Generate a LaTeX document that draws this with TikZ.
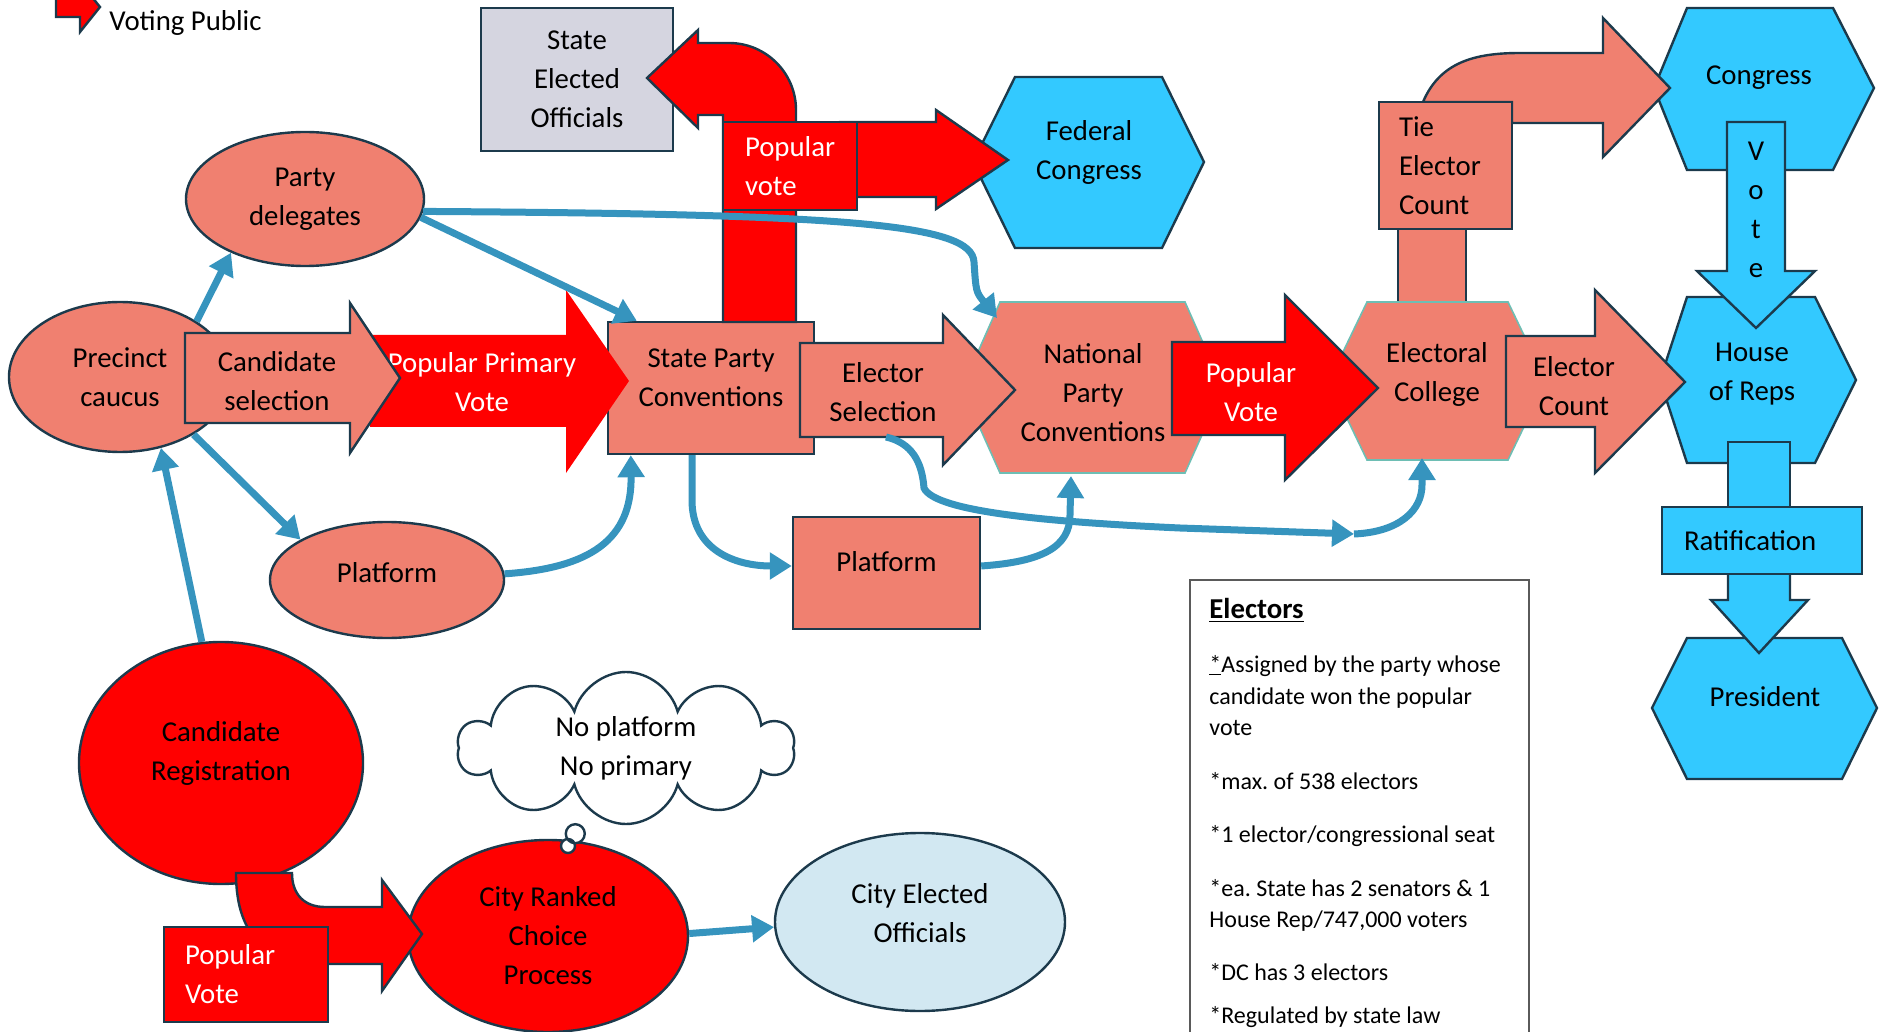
\documentclass[tikz,border=0pt]{standalone}
\usepackage{fontspec}
\setmainfont{Carlito}
\usetikzlibrary{arrows.meta,shapes.geometric,shapes.callouts}

\definecolor{salmonfill}{RGB}{240,128,112}
\definecolor{votered}{RGB}{255,0,0}
\definecolor{govcyan}{RGB}{51,201,255}
\definecolor{edgedark}{RGB}{28,58,76}
\definecolor{linkblue}{RGB}{54,148,190}
\definecolor{stategray}{RGB}{213,213,224}
\definecolor{citylight}{RGB}{210,232,242}
\definecolor{hexedge}{RGB}{110,190,180}
\definecolor{notegray}{RGB}{90,90,90}

\begin{document}
\begin{tikzpicture}[x=0.5pt, y=-0.5pt, >={Triangle[length=11pt,width=13pt]},
    lbl/.style={font=\fontsize{14.4}{19.5}\selectfont, align=center, inner sep=0pt},
    lblwhite/.style={lbl, text=white},
    notetext/.style={font=\fontsize{12}{16}\selectfont, inner sep=0pt, anchor=base west},
    outline/.style={draw=edgedark, line width=1.2pt},
    salmonpart/.style={outline, fill=salmonfill},
    redpart/.style={outline, fill=votered},
    cyanpart/.style={outline, fill=govcyan},
    hexpart/.style={draw=hexedge, line width=0.8pt, fill=salmonfill},
    oval/.style={ellipse, outline, lbl},
    link/.style={->, draw=linkblue, line width=3.5pt}]

    \useasboundingbox (0,0) rectangle (1881,1032);

    % Legend
    \draw [redpart] (56,-3) -- (80,-3) -- (80,-18) -- (100,7) -- (80,32) -- (80,17) -- (56,17) -- cycle;
    \node [lbl, anchor=west] (legend) at (109,23) {Voting Public};

    % State and federal offices
    \node [rectangle, outline, fill=stategray, minimum width=96pt, minimum height=71.5pt, lbl] (stateoff) at (577,79.5) {State\\Elected\\Officials};
    \draw [cyanpart] (973,162) -- (1015,77) -- (1162,77) -- (1204,162) -- (1162,248) -- (1015,248) -- cycle;
    \node [lbl] (fedcong) at (1089,152) {Federal\\Congress};
    \node [rectangle, salmonpart, minimum width=103pt, minimum height=66pt, lbl, text depth=10pt] (statepc) at (711,388) {State Party\\Conventions};
    \draw [redpart] (723,322) -- (723,115) -- (698,115) -- (698,128) -- (647,78) -- (698,30) -- (698,43) -- (729,43) .. controls (766,43) and (796,73) .. (796,110) -- (796,322) -- cycle;
    \draw [redpart] (840,122) -- (936,122) -- (936,110) -- (1008,160) -- (936,209) -- (936,197) -- (840,197) -- cycle;
    \node [rectangle, redpart, minimum width=67pt, minimum height=44pt, lbl, text=white, align=left, text width=45pt] (popvotetop) at (790,166) {Popular\\vote};

    % Hexagons
    \draw [hexpart] (962,388) -- (1000,302) -- (1185,302) -- (1223,388) -- (1185,473) -- (1000,473) -- cycle;
    \node [lbl] (natconv) at (1093,393) {National\\Party\\Conventions};
    \draw [salmonpart] (1398,222) rectangle (1466,306);
    \draw [hexpart] (1329,381) -- (1367,302) -- (1508,302) -- (1546,381) -- (1508,460) -- (1367,460) -- cycle;
    \node [lbl] (electcol) at (1437,374) {Electoral\\College};
    \draw [cyanpart] (1654,88) -- (1687,8) -- (1833,8) -- (1874,88) -- (1833,170) -- (1687,170) -- cycle;
    \node [lbl] (congress) at (1759,78) {Congress};
    \draw [cyanpart] (1660,380) -- (1687,297) -- (1815,297) -- (1856,380) -- (1815,463) -- (1687,463) -- cycle;
    \node [lbl] (house) at (1752,374) {House\\of Reps};
    \draw [cyanpart] (1652,708) -- (1687,638) -- (1842,638) -- (1877,708) -- (1842,779) -- (1687,779) -- cycle;
    \node [lbl] (president) at (1765,697) {President};

    % Main row of block arrows
    \fill [votered] (370,335) -- (566,335) -- (566,290) -- (629,381) -- (566,473) -- (566,427) -- (370,427) -- cycle;
    \node [lblwhite] (primary) at (482,382) {Popular Primary\\Vote};
    \node [oval, fill=salmonfill, minimum width=111pt, minimum height=75pt] (precinct) at (120,377) {Precinct\\caucus};
    \draw [salmonpart] (185,333) -- (350,333) -- (350,303) -- (400,378) -- (350,453) -- (350,423) -- (185,423) -- cycle;
    \node [lbl] (candsel) at (277,381) {Candidate\\selection};
    \draw [salmonpart] (800,343) -- (943,343) -- (943,315) -- (1015,390) -- (943,465) -- (943,437) -- (800,437) -- cycle;
    \node [lbl] (electsel) at (883,392) {Elector\\Selection};
    \draw [redpart] (1172,342) -- (1285,342) -- (1285,295) -- (1378,388) -- (1285,480) -- (1285,435) -- (1172,435) -- cycle;
    \node [lblwhite] (popvotemid) at (1251,392) {Popular\\Vote};

    % Tie branch
    \draw [salmonpart] (1512,123) -- (1603,123) -- (1603,157) -- (1670,88) -- (1603,18) -- (1603,53) -- (1520,53) .. controls (1475,53) and (1440,62) .. (1423,102) -- (1512,102) -- cycle;
    \node [rectangle, salmonpart, minimum width=66.5pt, minimum height=63.5pt, lbl, align=left, text width=46.5pt] (tiecount) at (1445.5,165.5) {Tie\\Elector\\Count};
    \draw [salmonpart] (1506,336) -- (1595,336) -- (1595,290) -- (1685,382) -- (1595,473) -- (1595,427) -- (1506,427) -- cycle;
    \node [lbl] (electcount) at (1574,386) {Elector\\Count};
    \draw [cyanpart] (1727,122) -- (1785,122) -- (1785,271) -- (1815,271) -- (1756,328) -- (1697,271) -- (1727,271) -- cycle;
    \node [lbl] (vote) at (1756,210) {V\\o\\t\\e};

    % Ratification
    \draw [cyanpart] (1728,442) rectangle (1790,512);
    \draw [cyanpart] (1728,570) -- (1790,570) -- (1790,600) -- (1808,600) -- (1759,653) -- (1711,600) -- (1728,600) -- cycle;
    \node [rectangle, cyanpart, minimum width=100pt, minimum height=33.5pt, lbl, align=left, text width=78pt] (ratify) at (1762,540.5) {Ratification};

    % Delegates and platforms
    \node [oval, fill=salmonfill, minimum width=119pt, minimum height=67pt] (delegates) at (305,199) {Party\\delegates};
    \node [oval, fill=salmonfill, minimum width=117pt, minimum height=58pt, text depth=8pt] (platformA) at (387,580) {Platform};
    \node [rectangle, salmonpart, minimum width=93.5pt, minimum height=56pt, lbl, text depth=11pt] (platformB) at (886.5,573) {Platform};

    % Electors note
    \node [rectangle, draw=notegray, line width=0.8pt, fill=white, anchor=north west, minimum width=169.5pt, minimum height=240pt] (electors) at (1189,579) {};
    \node [notetext, font=\fontsize{14.4}{19.5}\selectfont\bfseries] (electorshead) at (1209,618) {\underline{Electors}};
    \foreach \ybase/\entry [count=\k] in {672/{\underline{*}Assigned by the party whose}, 704/{candidate won the popular}, 735/{vote}, 789/{*max.\ of 538 electors}, 842/{*1 elector/congressional seat}, 896/{*ea.\ State has 2 senators \& 1}, 927/{House Rep/747,000 voters}, 980/{*DC has 3 electors}, 1023/{*Regulated by state law}}
        \node [notetext] (elector\k) at (1209,\ybase) {\entry};

    % City elections
    \node [oval, fill=votered, minimum width=142pt, minimum height=121pt, text depth=12pt] (candreg) at (221,763) {Candidate\\Registration};
    \node [oval, fill=votered, minimum width=140pt, minimum height=96pt] (cityrank) at (548,936) {City Ranked\\Choice\\Process};
    \draw [redpart] (236,873) .. controls (236,940) and (270,964) .. (330,964) -- (382,964) -- (382,991) -- (422,934) -- (382,880) -- (382,907) -- (325,907) .. controls (305,907) and (292,895) .. (292,873) -- cycle;
    \node [rectangle, redpart, minimum width=82pt, minimum height=47.5pt, lbl, text=white, align=left, text width=61pt] (popvotelow) at (246,974.5) {Popular\\Vote};
    \coordinate (thinktip) at (568,846);
    \node [cloud callout, outline, fill=white, cloud puffs=10, cloud ignores aspect, minimum width=168pt, minimum height=76pt, callout absolute pointer={(thinktip)}, callout pointer segments=2, callout pointer start size=12pt, callout pointer end size=7pt, lbl] (nothought) at (626,748) {No platform\\No primary};
    \node [oval, fill=citylight, minimum width=145pt, minimum height=89pt, text depth=9pt] (cityelect) at (920,922) {City Elected\\Officials};

    % Paths
    \coordinate (natltop) at (997,318);
    \coordinate (natlbot) at (1071,476);
    \coordinate (selfoot) at (886,437);
    \coordinate (relay) at (1354,534);
    \coordinate (ecbot) at (1422,458);

    \draw [link] (precinct.36) -- (delegates.216);
    \draw [link] (delegates.-9) -- ([xshift=15pt]statepc.north west);
    \draw [link] (delegates.-6) .. controls (850,214) and (972,224) .. (974,262) .. controls (976,292) .. (natltop);
    \draw [link] (precinct.-38) -- (platformA.155);
    \draw [link] (candreg.99) -- (precinct.-60);
    \draw [link] (platformA.3) .. controls (590,568) and (632,540) .. ([xshift=12pt]statepc.south west);
    \draw [link] ([xshift=-9.5pt]statepc.south) -- ++(0,45) .. controls (692,550) and (735,566) .. ([yshift=3.5pt]platformB.west);
    \draw [link] ([yshift=3.5pt]platformB.east) .. controls (1040,562) and (1070,548) .. (1070,515) -- (natlbot);
    \draw [link] (selfoot) .. controls (912,443) and (922,462) .. (924,488) .. controls (935,512) and (1050,522) .. (1180,528) -- (relay);
    \draw [link] (relay) .. controls (1400,532) and (1422,510) .. (1422,485) -- (ecbot);
    \draw [link] (cityrank.1) -- (cityelect.182);

\end{tikzpicture}
\end{document}
